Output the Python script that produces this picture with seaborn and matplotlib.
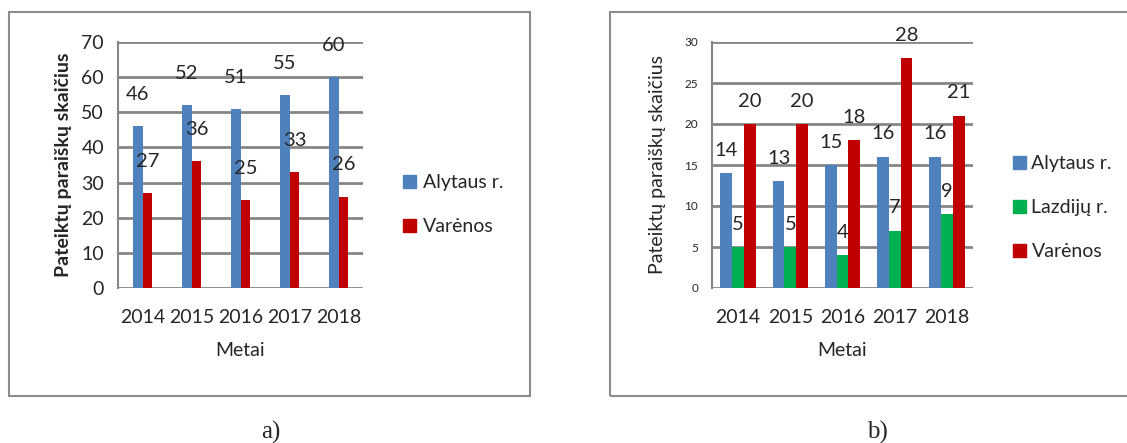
import matplotlib
matplotlib.use("Agg")
import matplotlib.pyplot as plt
from matplotlib.patches import Rectangle, Patch
import seaborn as sns
import pandas as pd

years = ["2014", "2015", "2016", "2017", "2018"]

# a) chart
alytaus_a = [46, 52, 51, 55, 60]
varenos_a = [27, 36, 25, 33, 26]

# b) chart
alytaus_b = [14, 13, 15, 16, 16]
lazdiju_b = [5, 5, 4, 7, 9]
varenos_b = [20, 20, 18, 28, 21]

series_a = ["Alytaus r.", "Varėnos"]
series_b = ["Alytaus r.", "Lazdijų r.", "Varėnos"]
colors = {"Alytaus r.": "#4F81BD", "Lazdijų r.": "#00B050", "Varėnos": "#C00000"}

ylabel = "Pateiktų paraiškų skaičius"
xlabel = "Metai"

df_a = pd.DataFrame({
    "Metai": years * 2,
    "value": alytaus_a + varenos_a,
    "series": [series_a[0]] * 5 + [series_a[1]] * 5,
})
df_b = pd.DataFrame({
    "Metai": years * 3,
    "value": alytaus_b + lazdiju_b + varenos_b,
    "series": [series_b[0]] * 5 + [series_b[1]] * 5 + [series_b[2]] * 5,
})

sns.set_style("white")
plt.rcParams["font.family"] = ["Lato", "DejaVu Sans"]

W, H = 1127, 443
fig = plt.figure(figsize=(W / 100, H / 100), dpi=100)

grid_col = "#868686"
frame_col = "#8c8c8c"
fs = 14


def px_box(x0, y0, x1, y1):
    return [x0 / W, 1 - y1 / H, (x1 - x0) / W, (y1 - y0) / H]


# outer frames
fig.patches.append(Rectangle((9 / W, 1 - 396 / H), 521 / W, 384 / H,
                             transform=fig.transFigure, fill=False,
                             edgecolor=frame_col, linewidth=1.5))
fig.patches.append(Rectangle((610 / W, 1 - 396 / H), 525 / W, 384 / H,
                             transform=fig.transFigure, fill=False,
                             edgecolor=frame_col, linewidth=1.5))


def style_axes(ax, ymax, step, tick_size):
    ax.set_ylim(0, ymax)
    ax.set_yticks(range(0, ymax + 1, step))
    ax.grid(axis="y", color=grid_col, linewidth=2)
    ax.set_axisbelow(True)
    for s in ["top", "right", "bottom"]:
        ax.spines[s].set_visible(False)
    ax.spines["left"].set_color(grid_col)
    ax.spines["left"].set_linewidth(1.5)
    ax.tick_params(axis="y", length=6, width=1.5, color=grid_col,
                   labelsize=tick_size, pad=4)
    ax.tick_params(axis="x", length=0, labelsize=fs, pad=15)
    ax.set_xlim(-0.5, 4.5)


def add_labels(ax, offset):
    for cont in ax.containers:
        for bar in cont:
            h = bar.get_height()
            ax.text(bar.get_x() + bar.get_width() / 2, h + offset,
                    f"{h:.0f}", ha="center", va="center", fontsize=fs + 0.5)


# ---- a)
ax1 = fig.add_axes(px_box(118, 42, 363, 288))
sns.barplot(data=df_a, x="Metai", y="value", hue="series", palette=colors,
            width=0.4, linewidth=0, saturation=1, ax=ax1, legend=False)
style_axes(ax1, 70, 10, fs)
ax1.set_ylabel(ylabel, fontsize=fs, fontweight="bold", labelpad=7)
ax1.set_xlabel(xlabel, fontsize=fs, labelpad=12)
add_labels(ax1, 9)
fig.legend(handles=[Patch(color=colors[s]) for s in series_a], labels=series_a,
           loc="upper left", bbox_to_anchor=(403 / W, 1 - 174 / H),
           frameon=False, fontsize=fs, handlelength=0.65, handleheight=0.65,
           handletextpad=0.4, labelspacing=1.4, borderpad=0, borderaxespad=0)

# ---- b)
ax2 = fig.add_axes(px_box(712, 42, 973, 288))
sns.barplot(data=df_b, x="Metai", y="value", hue="series", palette=colors,
            width=0.675, linewidth=0, saturation=1, ax=ax2, legend=False)
style_axes(ax2, 30, 5, 8.5)
ax2.set_ylabel(ylabel, fontsize=fs, labelpad=13)
ax2.set_xlabel(xlabel, fontsize=fs, labelpad=12)
add_labels(ax2, 2.8)
fig.legend(handles=[Patch(color=colors[s]) for s in series_b], labels=series_b,
           loc="upper left", bbox_to_anchor=(1013 / W, 1 - 155 / H),
           frameon=False, fontsize=fs, handlelength=0.65, handleheight=0.65,
           handletextpad=0.3, labelspacing=1.4, borderpad=0, borderaxespad=0)

# captions
fig.text(271 / W, 1 - 432 / H, "a)", ha="center", va="center",
         fontsize=18, family="Liberation Serif")
fig.text(877 / W, 1 - 432 / H, "b)", ha="center", va="center",
         fontsize=18, family="Liberation Serif")

fig.savefig("out.png", dpi=100)
